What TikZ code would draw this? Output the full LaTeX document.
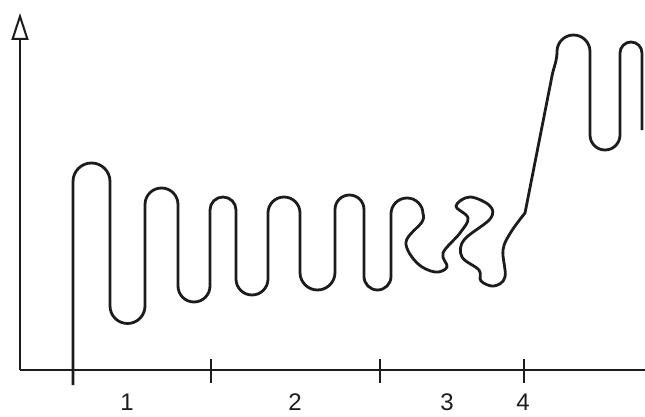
\documentclass[tikz,border=0pt]{standalone}
\usepackage{fontspec}
\setmainfont{Liberation Sans}
\usepackage{xcolor}
\usepackage{tikz}
\usetikzlibrary{arrows.meta}
\definecolor{inkgray}{RGB}{28,28,28}

\begin{document}
\begin{tikzpicture}[
  x=1pt, y=1pt,
  axis/.style={draw=inkgray, line width=2.4pt},
  chain/.style={draw=inkgray, line width=2.8pt, line join=round},
  tickmark/.style={draw=inkgray, line width=2.2pt},
  num/.style={font=\fontsize{24}{28}\selectfont, text=inkgray, inner sep=0pt}
]
\useasboundingbox (0,0) rectangle (645,416);

% axes
\coordinate (origin) at (20,46);
\coordinate (ytop) at (20,403);
\coordinate (xend) at (645,46);
\draw[axis, -{Triangle[open, length=27pt, width=17pt, line width=2pt]}] (origin) -- (ytop);
\draw[axis] (origin) -- (xend);
\foreach \tx in {211,380,524}
  \draw[tickmark] (\tx,33) -- (\tx,57);

% section numbers
\node[num] (lab1) at (127,14) {1};
\node[num] (lab2) at (295,14) {2};
\node[num] (lab3) at (447,14) {3};
\node[num] (lab4) at (523,14) {4};

% the folded chain
\draw[chain] (73,31) -- (73,234.5) arc[start angle=180, end angle=0, radius=18.5]
  -- (110,110) arc[start angle=180, end angle=360, radius=17.5]
  -- (145,211.5) arc[start angle=180, end angle=0, radius=16.5]
  -- (178,130) arc[start angle=180, end angle=360, radius=16]
  -- (210,206) arc[start angle=180, end angle=0, radius=13]
  -- (236,137) arc[start angle=180, end angle=360, radius=16]
  -- (268,203) arc[start angle=180, end angle=0, radius=16]
  -- (300,143.5) arc[start angle=180, end angle=360, radius=17.5]
  -- (335,206.5) arc[start angle=180, end angle=0, radius=14.5]
  -- (364,139.5) arc[start angle=180, end angle=360, radius=13.5]
  -- (391,202) arc[start angle=180, end angle=0, radius=16]
  -- plot[smooth, tension=0.6] coordinates {(423,202) (422,194) (406,174) (417,153) (435,144)
     (447,149) (443,163) (460,183) (468,198) (456,210) (470,219) (490,210) (490,197)
     (464,176) (462,159) (479,146) (481,135) (494,130) (505,139) (503,166) (511,184) (525,203)}
  -- (552,340) to[out=79, in=-90] (557,364.5)
  arc[start angle=180, end angle=0, radius=16.5]
  -- (590,281) arc[start angle=180, end angle=360, radius=15]
  -- (620,363) arc[start angle=180, end angle=0, radius=11]
  -- (642,286);
\end{tikzpicture}
\end{document}
